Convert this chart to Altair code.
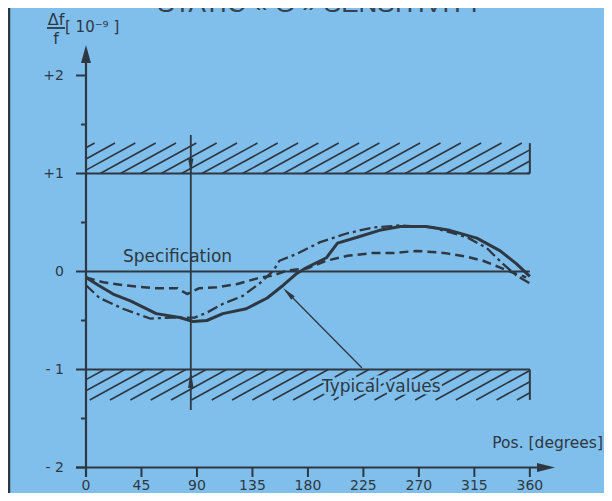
import altair as alt
import pandas as pd

# ---------------- data ----------------
solid_deg = [0, 10, 22, 36, 57, 76, 87, 98, 111, 130, 147, 160, 171, 179, 195, 204, 220, 238, 255, 276, 295, 317, 336, 349, 360]
solid_val = [-0.06, -0.14, -0.23, -0.30, -0.43, -0.47, -0.51, -0.50, -0.43, -0.38, -0.27, -0.14, -0.02, 0.04, 0.14, 0.29, 0.35, 0.42, 0.46, 0.46, 0.42, 0.34, 0.21, 0.08, -0.05]

dashed_deg = [0, 14, 30, 55, 74, 82, 92, 106, 122, 139, 152, 163, 179, 195, 212, 233, 250, 268, 290, 309, 322, 336, 346, 357]
dashed_val = [-0.06, -0.11, -0.14, -0.17, -0.17, -0.23, -0.17, -0.16, -0.13, -0.07, -0.04, 0.01, 0.03, 0.11, 0.16, 0.19, 0.19, 0.21, 0.19, 0.15, 0.11, 0.04, -0.01, -0.06]

dashdot_deg = [0, 11, 30, 52, 71, 88, 98, 111, 127, 141, 152, 157, 171, 190, 212, 233, 255, 281, 309, 325, 338, 349, 360]
dashdot_val = [-0.14, -0.27, -0.38, -0.48, -0.47, -0.47, -0.42, -0.33, -0.25, -0.12, 0.01, 0.11, 0.18, 0.30, 0.39, 0.45, 0.47, 0.45, 0.35, 0.24, 0.08, -0.04, -0.12]

x_ticks = [0, 45, 90, 135, 180, 225, 270, 315, 360]
x_tick_labels = ["0", "45", "90", "135", "180", "225", "270", "315", "360"]
y_major = [2, 1, 0, -1, -2]
y_major_labels = ["+2", "+1", "0", "- 1", "- 2"]
y_minor = [1.5, 0.5, -0.5, -1.5]
spec_limits = [1, -1]
band_depth = 0.31
spec_angle = 85

title_text = "STATIC « G » SENSITIVITY"

# ---------------- styling / layout ----------------
INK = "#2e3842"
BG = "#80bfeb"
FONT = "DejaVu Sans, sans-serif"

X0, XS = 86.0, 1.2329   # page px of 0 deg, px per degree
Y0, YS = 271.5, 98.0    # page px of 0, px per unit


def d_(px):
    return (px - X0) / XS


def v_(py):
    return (Y0 - py) / YS


W, H = 596, 485
xs = alt.Scale(domain=[d_(8), d_(8 + W)], nice=False, zero=False)
ys = alt.Scale(domain=[v_(8 + H), v_(8)], nice=False, zero=False)


def rules(df, width, color=INK):
    return alt.Chart(df).mark_rule(color=color, strokeWidth=width).encode(
        x=alt.X("x:Q", scale=xs, axis=None),
        x2="x2:Q",
        y=alt.Y("y:Q", scale=ys, axis=None),
        y2="y2:Q",
    )


def texts(df, **mk):
    base = dict(color=INK, font=FONT)
    base.update(mk)
    return alt.Chart(df).mark_text(**base).encode(
        x=alt.X("x:Q", scale=xs, axis=None),
        y=alt.Y("y:Q", scale=ys, axis=None),
        text="t:N",
    )


def symbol(df, shape, size, angle=0):
    kw = dict(shape=shape, size=size, filled=True, color=INK, opacity=1, strokeWidth=0)
    if angle:
        kw["angle"] = angle
    return alt.Chart(df).mark_point(**kw).encode(
        x=alt.X("x:Q", scale=xs, axis=None),
        y=alt.Y("y:Q", scale=ys, axis=None),
    )


layers = []

# left border of the original figure
layers.append(alt.Chart(pd.DataFrame({"a": [0]})).mark_rule(color=INK, strokeWidth=2.5).encode(
    x=alt.value(1), y=alt.value(0), y2=alt.value(H)))


# hatching of the two "out of spec" bands
def hatch(v_low, v_high, spacing=16.5, run=45.0, lo=0.0, hi=360.0, start=-38.0):
    rows = []
    h = v_high - v_low
    x0 = start
    while x0 < hi:
        xa, xb, va, vb = x0, x0 + run, v_low, v_high
        if xa < lo:
            va = v_low + (lo - x0) / run * h
            xa = lo
        if xb > hi:
            vb = v_low + (hi - x0) / run * h
            xb = hi
        if xb > xa:
            rows.append({"x": xa, "x2": xb, "y": va, "y2": vb})
        x0 += spacing
    return pd.DataFrame(rows)


layers.append(rules(hatch(spec_limits[0], spec_limits[0] + band_depth), 1.7))
layers.append(rules(hatch(spec_limits[1] - band_depth, spec_limits[1], start=-30.0), 1.7))

# band right edges
layers.append(rules(pd.DataFrame({
    "x": [360, 360], "x2": [360, 360],
    "y": [spec_limits[0], spec_limits[1]],
    "y2": [spec_limits[0] + band_depth, spec_limits[1] - band_depth]}), 2))

# spec limit lines and zero line
layers.append(rules(pd.DataFrame({
    "x": [d_(76)] * 3, "x2": [360] * 3,
    "y": [spec_limits[0], 0, spec_limits[1]], "y2": [spec_limits[0], 0, spec_limits[1]]}), 2.2))

# y axis line and x axis line
layers.append(rules(pd.DataFrame({
    "x": [0, d_(76)], "x2": [0, d_(545)],
    "y": [v_(477), -2], "y2": [v_(60), -2]}), 2.2))

# y ticks (outer majors and minors)
yt = [v for v in y_major if v not in (0, 1, -1)]
layers.append(rules(pd.DataFrame({"x": [d_(76)] * len(yt), "x2": [0] * len(yt), "y": yt, "y2": yt}), 2))
layers.append(rules(pd.DataFrame({"x": [d_(81)] * len(y_minor), "x2": [0] * len(y_minor), "y": y_minor, "y2": y_minor}), 2))

# x ticks
xt = [t for t in x_ticks if t != 0]
layers.append(rules(pd.DataFrame({"x": xt, "x2": xt, "y": [-2] * len(xt), "y2": [v_(477)] * len(xt)}), 2))

# axis arrowheads
layers.append(symbol(pd.DataFrame({"x": [0], "y": [v_(54)]}), "M0,-1L0.55,1L-0.55,1Z", 324))
layers.append(symbol(pd.DataFrame({"x": [d_(546)], "y": [-2]}), "M1,0L-1,0.5L-1,-0.5Z", 324))

# vertical dimension line with arrows
layers.append(rules(pd.DataFrame({"x": [spec_angle], "x2": [spec_angle], "y": [v_(135)], "y2": [v_(410)]}), 1.8))
layers.append(symbol(pd.DataFrame({"x": [spec_angle], "y": [v_(166)]}), "M-0.35,-1L0.35,-1L0,1Z", 225))
layers.append(symbol(pd.DataFrame({"x": [spec_angle], "y": [v_(379)]}), "M0,-1L0.3,1L-0.3,1Z", 324))

# curves
df_solid = pd.DataFrame({"x": solid_deg, "y": solid_val})
df_dashed = pd.DataFrame({"x": dashed_deg, "y": dashed_val})
df_dashdot = pd.DataFrame({"x": dashdot_deg, "y": dashdot_val})


def curve(df, width, dash=None):
    kw = dict(color=INK, strokeWidth=width, strokeJoin="round", strokeCap="butt")
    if dash:
        kw["strokeDash"] = dash
    return alt.Chart(df).mark_line(**kw).encode(
        x=alt.X("x:Q", scale=xs, axis=None),
        y=alt.Y("y:Q", scale=ys, axis=None),
    )


layers.append(curve(df_dashed, 2.5, [9, 5]))
layers.append(curve(df_dashdot, 2.3, [11, 4, 3, 4]))
layers.append(curve(df_solid, 3.0))

# pointer from "Typical values" to the solid curve
layers.append(rules(pd.DataFrame({"x": [d_(286)], "x2": [d_(362)], "y": [v_(291)], "y2": [v_(368)]}), 1.3))
layers.append(symbol(pd.DataFrame({"x": [d_(288)], "y": [v_(293)]}), "M0,-1L0.35,1L-0.35,1Z", 196, angle=315))

# tick labels
layers.append(texts(pd.DataFrame({"x": x_ticks, "y": [v_(486)] * len(x_ticks), "t": x_tick_labels}),
                    fontSize=14, align="center", baseline="middle"))
layers.append(texts(pd.DataFrame({"x": [d_(64)] * len(y_major), "y": y_major, "t": y_major_labels}),
                    fontSize=14, align="right", baseline="middle"))

# annotations
layers.append(texts(pd.DataFrame({"x": [d_(123)], "y": [v_(257)], "t": ["Specification"]}),
                    fontSize=17, align="left", baseline="middle"))
typ = pd.DataFrame({"x": [d_(322)], "y": [v_(387)], "t": ["Typical values"]})
layers.append(texts(typ, fontSize=17, align="left", baseline="middle", stroke=BG, strokeWidth=5, color=BG))
layers.append(texts(typ, fontSize=17, align="left", baseline="middle"))
layers.append(texts(pd.DataFrame({"x": [d_(603)], "y": [v_(443)], "t": ["Pos. [degrees]"]}),
                    fontSize=15.5, align="right", baseline="middle"))

# y axis unit label  Δf / f [10^-9]
layers.append(texts(pd.DataFrame({"x": [d_(56)], "y": [v_(25)], "t": ["Δf"]}),
                    fontSize=16, align="center", baseline="alphabetic"))
layers.append(rules(pd.DataFrame({"x": [d_(47)], "x2": [d_(65)], "y": [v_(28)], "y2": [v_(28)]}), 1.8))
layers.append(texts(pd.DataFrame({"x": [d_(56)], "y": [v_(44)], "t": ["f"]}),
                    fontSize=16, align="center", baseline="alphabetic"))
layers.append(texts(pd.DataFrame({"x": [d_(65)], "y": [v_(32)], "t": ["[ 10⁻⁹ ]"]}),
                    fontSize=15, align="left", baseline="alphabetic"))

# title (cut at the top edge, as in the original)
layers.append(texts(pd.DataFrame({"x": [d_(320)], "y": [v_(12)], "t": [title_text]}),
                    fontSize=26, align="center", baseline="alphabetic",
                    font="Liberation Sans, Arial, sans-serif", color="#36414c"))

chart = alt.layer(*layers).properties(
    width=W, height=H, background=BG, padding=0,
    autosize=alt.AutoSizeParams(type="none"),
).configure_view(strokeWidth=0)

chart.save("out.html", embed_options={"renderer": "svg", "actions": False})
